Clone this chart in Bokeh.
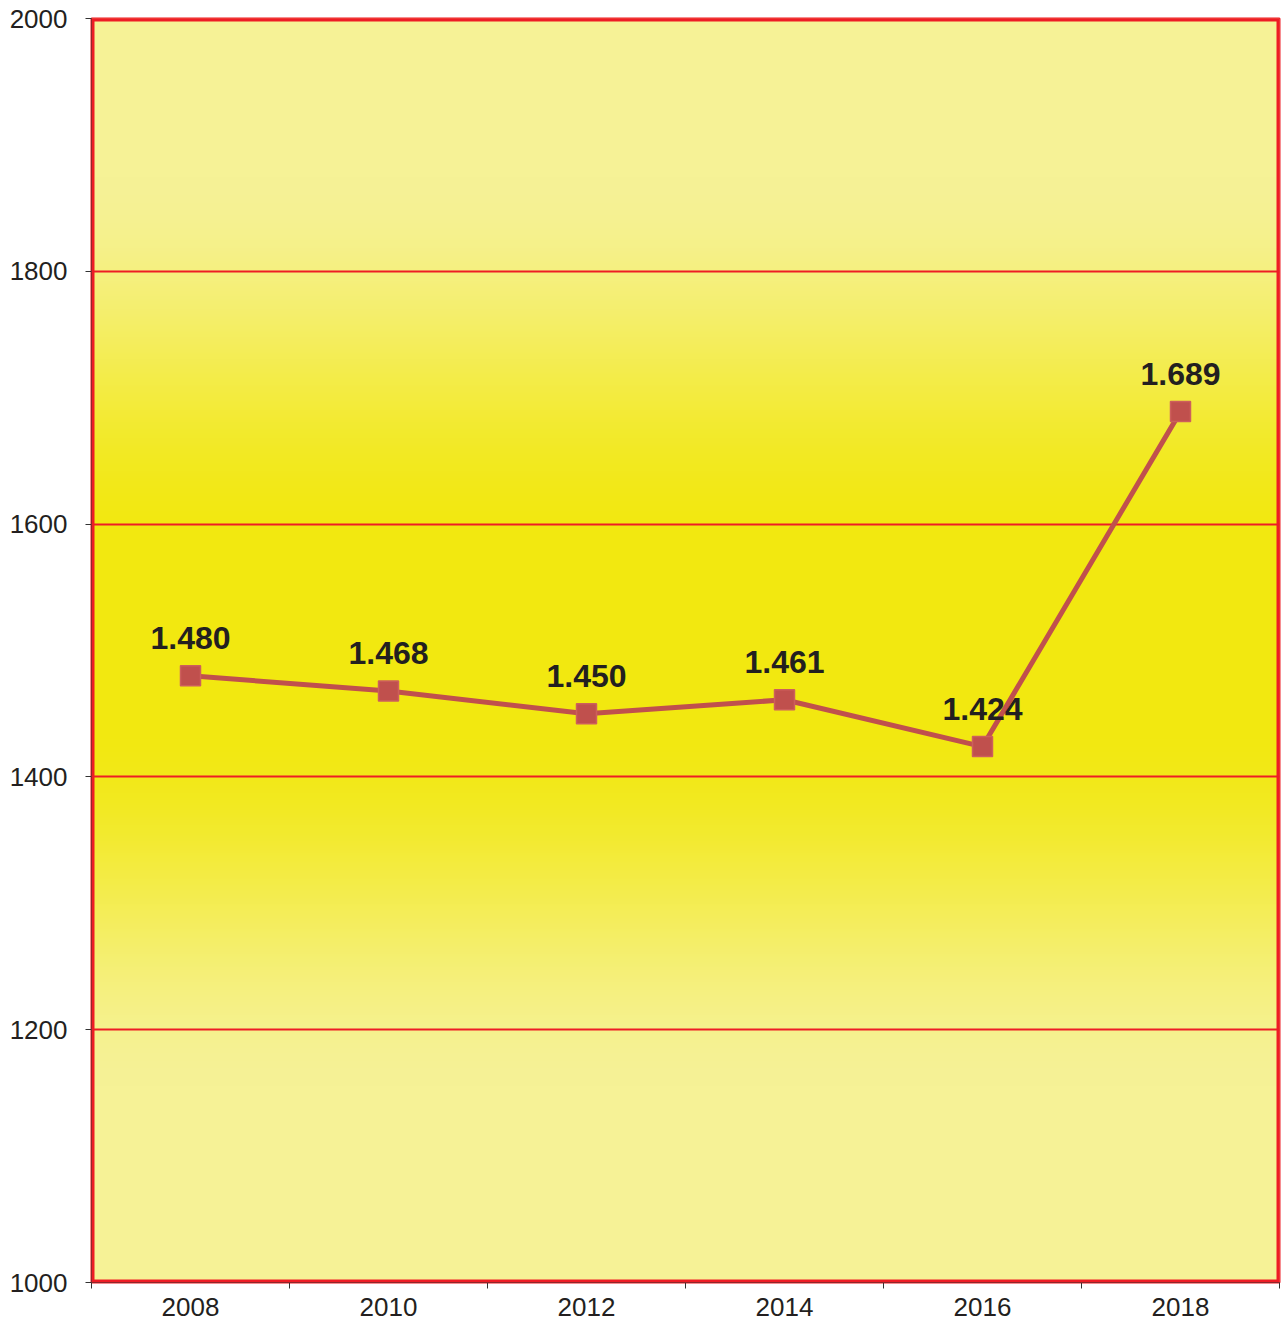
import numpy as np
from bokeh.plotting import figure
from bokeh.models import ColumnDataSource, Range1d, FixedTicker, BoxAnnotation
from bokeh.core.properties import value
from bokeh.embed import file_html
from bokeh.resources import INLINE

years = ["2008", "2010", "2012", "2014", "2016", "2018"]
values = [1480, 1468, 1450, 1461, 1424, 1689]
y_ticks = [1000, 1200, 1400, 1600, 1800, 2000]

xs = [i + 0.5 for i in range(len(years))]
labels = [f"{v:,}".replace(",", ".") for v in values]
src = ColumnDataSource(dict(x=xs, y=values, label=labels))

p = figure(width=1283, height=1321, output_backend="svg", toolbar_location=None,
           x_range=Range1d(0, len(years)), y_range=Range1d(1000, 2000),
           min_border_left=91, min_border_right=4, min_border_top=18, min_border_bottom=39)
p.background_fill_color = "#F6F296"
p.border_fill_color = "white"

# vertical gradient background
N = 500
vy = np.linspace(1000, 2000, N)
light = np.array([246, 242, 150], dtype=float)
sat = np.array([242, 232, 16], dtype=float)
d = np.clip((np.abs(vy - 1515) - 70) / 290.0, 0, 1)
t = d * d * (3 - 2 * d)
cols = sat[None, :] * (1 - t[:, None]) + light[None, :] * t[:, None]
img = np.empty((N, 1), dtype=np.uint32)
view = img.view(dtype=np.uint8).reshape((N, 1, 4))
view[:, 0, 0] = cols[:, 0].astype(np.uint8)
view[:, 0, 1] = cols[:, 1].astype(np.uint8)
view[:, 0, 2] = cols[:, 2].astype(np.uint8)
view[:, 0, 3] = 255
p.image_rgba(image=[img], x=0, y=1000, dw=len(years), dh=1000, level="image")

p.outline_line_color = "#EE1C25"
p.outline_line_width = 2

p.xgrid.visible = False
p.ygrid.ticker = FixedTicker(ticks=y_ticks)
p.ygrid.grid_line_color = "#EE1C25"
p.ygrid.grid_line_width = 2

p.yaxis.ticker = FixedTicker(ticks=y_ticks)
p.yaxis.major_tick_out = 6
p.yaxis.major_tick_in = 0
p.yaxis.minor_tick_out = 0
p.yaxis.axis_line_color = "#333333"
p.yaxis.major_tick_line_color = "#333333"
p.yaxis.major_label_text_font = "Liberation Sans"
p.yaxis.major_label_text_font_size = "26px"
p.yaxis.major_label_text_color = "#231F20"
p.yaxis.major_label_standoff = 18

p.xaxis.ticker = FixedTicker(ticks=xs, minor_ticks=list(range(len(years) + 1)))
p.xaxis.major_label_overrides = {x: y for x, y in zip(xs, years)}
p.xaxis.major_tick_out = 0
p.xaxis.major_tick_in = 0
p.xaxis.minor_tick_out = 6
p.xaxis.minor_tick_in = 0
p.xaxis.minor_tick_line_color = "#333333"
p.xaxis.axis_line_color = "#333333"
p.xaxis.major_label_text_font = "Liberation Sans"
p.xaxis.major_label_text_font_size = "26px"
p.xaxis.major_label_text_color = "#231F20"
p.xaxis.major_label_standoff = 9

p.line("x", "y", source=src, line_color="#C0504D", line_width=5)
p.scatter("x", "y", source=src, marker="square", size=20,
          fill_color="#C0504D", line_color="#CD5F5C", line_width=1.5)
p.text("x", "y", text="label", source=src, text_font=value("Liberation Sans"),
       text_font_style="bold", text_font_size="32px", text_color="#231F20",
       text_align="center", text_baseline="bottom", y_offset=-27)

p.add_layout(BoxAnnotation(fill_alpha=0, line_color="#EE1C25", line_alpha=1.0,
                           line_width=6, level="overlay"))

open("out.html", "w").write(file_html(p, INLINE))
